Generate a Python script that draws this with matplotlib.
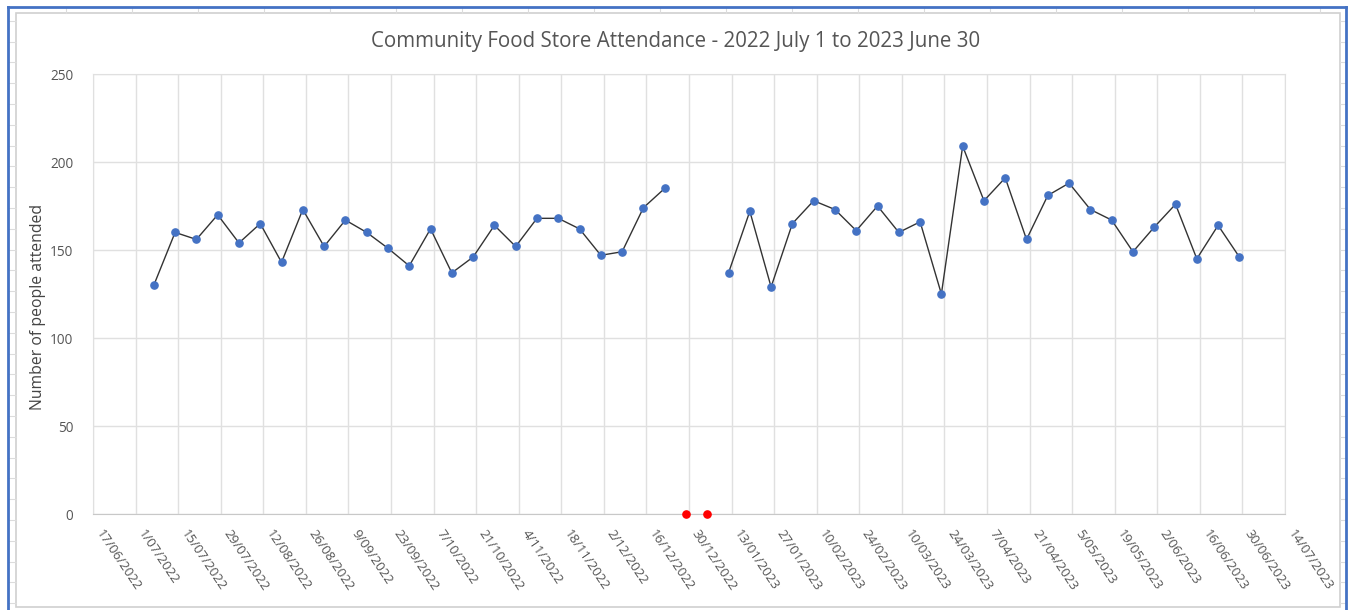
import numpy as np
import pandas as pd
import matplotlib
matplotlib.use("Agg")
import matplotlib.pyplot as plt
from matplotlib.lines import Line2D
from matplotlib.patches import Rectangle

plt.rcParams['font.family'] = ['Open Sans', 'DejaVu Sans']

# weekly attendance (week dates, people attended)
weeks = [
    '2022-07-07', '2022-07-14', '2022-07-21', '2022-07-28', '2022-08-04', '2022-08-11',
    '2022-08-18', '2022-08-25', '2022-09-01', '2022-09-08', '2022-09-15', '2022-09-22',
    '2022-09-29', '2022-10-06', '2022-10-13', '2022-10-20', '2022-10-27', '2022-11-03',
    '2022-11-10', '2022-11-17', '2022-11-24', '2022-12-01', '2022-12-08', '2022-12-15',
    '2022-12-22', '2022-12-29', '2023-01-05', '2023-01-12', '2023-01-19', '2023-01-26',
    '2023-02-02', '2023-02-09', '2023-02-16', '2023-02-23', '2023-03-02', '2023-03-09',
    '2023-03-16', '2023-03-23', '2023-03-30', '2023-04-06', '2023-04-13', '2023-04-20',
    '2023-04-27', '2023-05-04', '2023-05-11', '2023-05-18', '2023-05-25', '2023-06-01',
    '2023-06-08', '2023-06-15', '2023-06-22', '2023-06-29',
]
attended = [
    130, 160, 156, 170, 154, 165, 143, 173, 152, 167, 160, 151, 141, 162, 137, 146,
    164, 152, 168, 168, 162, 147, 149, 174, 185,
    0, 0,
    137, 172, 129, 165, 178, 173, 161, 175, 160, 166, 125, 209, 178, 191, 156, 181,
    188, 173, 167, 149, 163, 176, 145, 164, 146,
]

x_start, x_end = '2022-06-17', '2023-07-14'
y_ticks = [0, 50, 100, 150, 200, 250]

dates = pd.to_datetime(weeks)
vals = np.array(attended, dtype=float)
closed = vals == 0
line_vals = np.where(closed, np.nan, vals)

fig = plt.figure(figsize=(13.52, 6.10), dpi=100)

# spreadsheet background + chart frame
W, H = 1352, 610
def px(x, y):
    return x / W, 1 - y / H

cell = '#dcdcdc'
for yy in np.arange(20.8, H, 20.8):
    fig.add_artist(Line2D([8 / W, 16 / W], [1 - yy / H] * 2, color=cell, lw=0.8))
    fig.add_artist(Line2D([1340 / W, 1345 / W], [1 - yy / H] * 2, color=cell, lw=0.8))
for xx in np.arange(66, 1340, 66):
    fig.add_artist(Line2D([xx / W] * 2, [1 - 7 / H, 1 - 12.5 / H], color=cell, lw=0.8))
fig.add_artist(Rectangle(px(16, 607), (1340 - 16) / W, (607 - 12.5) / H,
                         fill=False, edgecolor='#d0d0d0', lw=1.2))
fig.add_artist(Line2D([7.5 / W, 7.5 / W], [0, 1 - 6.5 / H], color='#4472c4', lw=2))
fig.add_artist(Line2D([7.5 / W, 1345.5 / W], [1 - 6.5 / H] * 2, color='#4472c4', lw=2))
fig.add_artist(Line2D([1345.5 / W] * 2, [0, 1 - 6.5 / H], color='#4472c4', lw=2))

ax = fig.add_axes([93 / W, 1 - 514 / H, (1285 - 93) / W, (514 - 74) / H])

ax.plot(dates, line_vals, color='#333333', lw=1.0, zorder=3)
ax.plot(dates[~closed], vals[~closed], 'o', color='#4472c4', ms=5.2, zorder=4)
ax.plot(dates[closed], vals[closed], 'o', color='#ff0000', ms=5.2, zorder=4, clip_on=False)

ax.set_xlim(pd.Timestamp(x_start), pd.Timestamp(x_end))
ax.set_ylim(0, 250)
ax.set_yticks(y_ticks)

xt = pd.date_range(x_start, x_end, freq='14D')
ax.set_xticks(xt)
ax.set_xticklabels([f'{d.day}/{d.month:02d}/{d.year}' for d in xt],
                   rotation=-56, ha='left', va='top', fontsize=9.5, color='#555555')
ax.tick_params(axis='x', length=0, pad=10)
ax.tick_params(axis='y', length=0, pad=14, labelsize=9.8, labelcolor='#555555')

ax.grid(True, color='#e0e0e0', lw=1)
ax.set_axisbelow(True)
for s in ['top', 'right', 'left']:
    ax.spines[s].set_color('#e0e0e0')
ax.spines['bottom'].set_color('#c8c8c8')

fig.text(0.5, 1 - 42 / H, 'Community Food Store Attendance - 2022 July 1 to 2023 June 30',
         ha='center', va='center', fontsize=14.8, color='#555555')
fig.text(38 / W, 1 - 307 / H, 'Number of people attended', rotation=90,
         ha='center', va='center', fontsize=11.3, color='#444444')

fig.savefig('out.png', dpi=100)
